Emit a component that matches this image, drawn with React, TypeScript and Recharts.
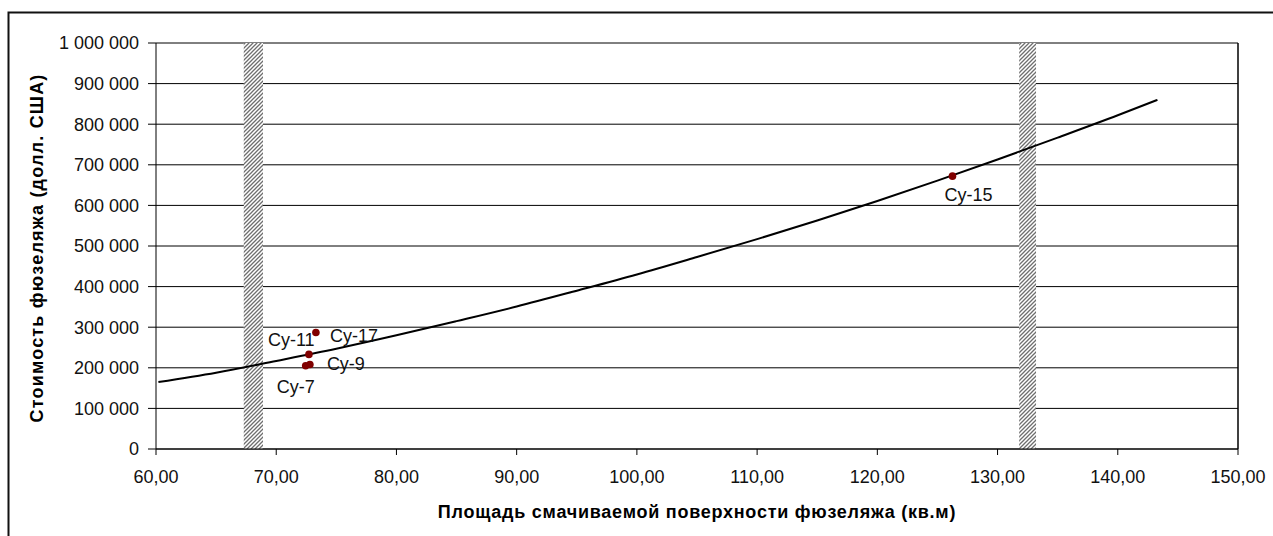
import React from 'react';
import {
  ComposedChart, Line, Scatter, XAxis, YAxis, CartesianGrid, ReferenceArea, ReferenceLine,
} from 'recharts';

// ---- data ----
const xTicks = [60, 70, 80, 90, 100, 110, 120, 130, 140, 150];
const yTicks = [0, 100000, 200000, 300000, 400000, 500000, 600000, 700000, 800000, 900000, 1000000];

const pointNames = ['Су-7', 'Су-9', 'Су-11', 'Су-17', 'Су-15'];
const pointArea = [72.45, 72.8, 72.72, 73.3, 126.25];
const pointCost = [205000, 208000, 233000, 287000, 672000];

const trendArea = [60.2, 65, 70, 75, 80, 85, 90, 95, 100, 105, 110, 115, 120, 125, 130, 135, 140, 143.3];
const trendCost = [165000, 188000, 217000, 247000, 280000, 315000, 351000, 390000, 430000, 473000, 517000, 563000, 611000, 661000, 713000, 767000, 822000, 860000];

const bandLeft = [67.3, 68.9];
const bandRight = [131.8, 133.2];

const xTitle = 'Площадь смачиваемой поверхности фюзеляжа (кв.м)';
const yTitle = 'Стоимость фюзеляжа (долл. США)';

// label placement (layout, not data)
const labelOffset: Record<string, [number, number]> = {
  'Су-7': [-29, 27],
  'Су-9': [17, 5],
  'Су-11': [-41, -8],
  'Су-17': [14, 10],
  'Су-15': [-8, 25],
};

const points = pointNames.map((n, i) => ({ name: n, x: pointArea[i], y: pointCost[i] }));
const trend = trendArea.map((x, i) => ({ x, y: trendCost[i] }));

const FONT = '"Liberation Sans", Arial, sans-serif';

const fmtY = (v: number) => String(v).replace(/\B(?=(\d{3})+(?!\d))/g, ' ');
const fmtX = (v: number) => v.toFixed(2).replace('.', ',');

const PointShape = (props: any) => {
  const { cx, cy, payload } = props;
  if (cx == null || cy == null) return null;
  const off = labelOffset[payload.name] || [8, 5];
  return (
    <g>
      <circle cx={cx} cy={cy} r={3.8} fill="#800000" />
      <text x={cx + off[0]} y={cy + off[1]} fontSize={18} fontFamily={FONT} fill="#111">
        {payload.name}
      </text>
    </g>
  );
};

export default function App() {
  return (
    <div style={{ position: 'fixed', left: 0, top: 0, width: 1273, height: 536, background: '#fff', overflow: 'hidden' }}>
      <ComposedChart
        width={1273}
        height={536}
        margin={{ top: 43, right: 35, left: 8, bottom: 27 }}
        style={{ fontFamily: FONT }}
      >
        <defs>
          <pattern id="hatch" patternUnits="userSpaceOnUse" width="4" height="4">
            <rect width="4" height="4" fill="#fff" />
            <path d="M-1,1 l2,-2 M0,4 l4,-4 M3,5 l2,-2" stroke="#6e6e6e" strokeWidth="1.3" />
          </pattern>
        </defs>
        <path d="M8.5,536 V12.5 H1273" stroke="#111" strokeWidth={2} fill="none" />
        <CartesianGrid horizontal vertical={false} stroke="#000" strokeWidth={1} />
        <XAxis
          type="number"
          dataKey="x"
          domain={[60, 150]}
          ticks={xTicks}
          tickFormatter={fmtX}
          height={60}
          tickSize={6}
          tickMargin={15}
          axisLine={{ stroke: '#000' }}
          tickLine={{ stroke: '#000' }}
          tick={{ fill: '#111', fontSize: 18, fontFamily: FONT }}
          allowDataOverflow
        />
        <YAxis
          type="number"
          dataKey="y"
          domain={[0, 1000000]}
          ticks={yTicks}
          tickFormatter={fmtY}
          width={148}
          tickSize={8}
          tickMargin={9}
          axisLine={{ stroke: '#000' }}
          tickLine={{ stroke: '#000' }}
          tick={{ fill: '#111', fontSize: 18, fontFamily: FONT }}
          allowDataOverflow
        />
        <ReferenceArea x1={bandLeft[0]} x2={bandLeft[1]} y1={0} y2={1000000} fill="url(#hatch)" fillOpacity={1} stroke="none" />
        <ReferenceArea x1={bandRight[0]} x2={bandRight[1]} y1={0} y2={1000000} fill="url(#hatch)" fillOpacity={1} stroke="none" />
        <ReferenceLine x={150} stroke="#000" strokeWidth={1.5} />
        <Line
          data={trend}
          dataKey="y"
          type="monotone"
          stroke="#000"
          strokeWidth={2}
          dot={false}
          activeDot={false}
          isAnimationActive={false}
        />
        <Scatter data={points} dataKey="y" shape={PointShape} isAnimationActive={false} />
        <text
          x={37}
          y={248}
          transform="rotate(-90 37 248)"
          textAnchor="middle"
          dominantBaseline="central"
          fontSize={18}
          fontWeight="bold"
          letterSpacing={1.2}
          fontFamily={FONT}
          fill="#000"
        >
          {yTitle}
        </text>
        <text x={697} y={518} textAnchor="middle" fontSize={18} fontWeight="bold" letterSpacing={0.75} fontFamily={FONT} fill="#000">
          {xTitle}
        </text>
      </ComposedChart>
    </div>
  );
}
